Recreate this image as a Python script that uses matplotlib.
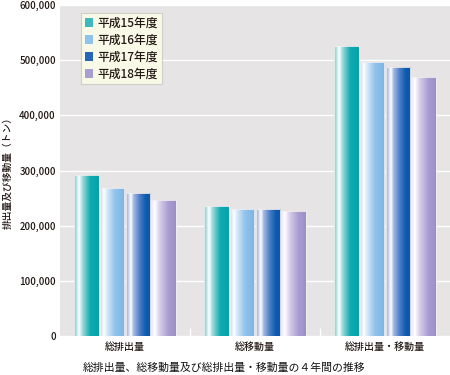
import numpy as np
import matplotlib
matplotlib.use('Agg')
import matplotlib.pyplot as plt
from matplotlib.colors import LinearSegmentedColormap
from matplotlib.patches import Patch

plt.rcParams['font.family'] = ['Noto Sans CJK JP', 'DejaVu Sans']

# データ（トン）
categories = ['総排出量', '総移動量', '総排出量・移動量']
years = ['平成15年度', '平成16年度', '平成17年度', '平成18年度']
h15 = [292000, 236500, 526000]
h16 = [269000, 230000, 496000]
h17 = [260000, 231000, 488000]
h18 = [246000, 227000, 470000]
series = [h15, h16, h17, h18]
yticks = [0, 100000, 200000, 300000, 400000, 500000, 600000]

# 棒のグラデーション（左→右）
grads = [
    [(0, '#7FCBCE'), (0.08, '#A6DCDD'), (0.2, '#FFFFFF'), (0.35, '#9CD7D9'), (0.65, '#12AAB0'), (1, '#00A5AD')],
    [(0, '#B9DCF4'), (0.15, '#FFFFFF'), (0.3, '#D2E7F8'), (0.6, '#92C3EB'), (1, '#7AB4E6')],
    [(0, '#8EA6D8'), (0.2, '#FFFFFF'), (0.3, '#A9BAE1'), (0.55, '#4D7EC5'), (0.8, '#0B5BB0'), (1, '#0E57A8')],
    [(0, '#E6E2F3'), (0.15, '#FFFFFF'), (0.35, '#D7CFEA'), (0.7, '#A99CD1'), (1, '#9C8EC9')],
]
legend_cols = ['#3DB8BE', '#8EC3EC', '#2566B8', '#A89ED2']

fig = plt.figure(figsize=(4.5, 3.75), dpi=100)
ax = fig.add_axes([60 / 450, 39 / 375, 390 / 450, 331 / 375])
ax.set_facecolor('#E6E4E4')
for s in ax.spines.values():
    s.set_visible(False)

x = np.arange(len(categories))
step = 0.197
width = 0.186
grad = np.linspace(0, 1, 256).reshape(1, -1)
for i, vals in enumerate(series):
    cmap = LinearSegmentedColormap.from_list('g%d' % i, grads[i])
    bars = ax.bar(x + (i - 1.5) * step, vals, width, facecolor='none',
                  edgecolor='#F2EEEE', linewidth=0.6, zorder=3)
    for b in bars:
        x0, y0 = b.get_x(), b.get_y()
        im = ax.imshow(grad, cmap=cmap, aspect='auto', zorder=2,
                       extent=[x0, x0 + b.get_width(), y0, y0 + b.get_height()])
        im.set_clip_path(b)

ax.set_xlim(-0.5, 2.5)
ax.set_ylim(0, 600000)
ax.set_yticks(yticks)
ax.set_yticklabels(['{:,}'.format(v) for v in yticks], fontsize=7, color='#231815',
                   fontweight='medium')
ax.set_xticks(x)
ax.set_xticklabels(categories, fontsize=7.2, color='#231815', fontweight='medium')
ax.tick_params(length=0, pad=3)
ax.tick_params(axis='x', pad=4)
ax.grid(axis='y', color='white', linewidth=1, zorder=1)
ax.set_axisbelow(True)
ax.vlines([0.5, 1.5], 0, 14000, color='white', linewidth=1, zorder=1)

ax.set_ylabel('排出量及び移動量（トン）', fontsize=7, color='#231815', labelpad=5,
              fontweight='medium')

handles = [Patch(facecolor=c, edgecolor='none') for c in legend_cols]
leg = ax.legend(handles, years, loc='upper left', bbox_to_anchor=(0.054, 0.976),
                borderaxespad=0, fontsize=8.5, handlelength=0.7, handleheight=0.8,
                handletextpad=0.4, labelspacing=0.35, borderpad=0.3,
                fancybox=False, frameon=True)
leg.get_frame().set_facecolor('#FFFFE8')
leg.get_frame().set_edgecolor('#C8C8C0')
leg.get_frame().set_linewidth(0.8)
leg.set_zorder(5)
for t in leg.get_texts():
    t.set_color('#231815')
    t.set_fontweight('medium')

fig.text(83 / 450, 1 - 368 / 375, '総排出量、総移動量及び総排出量・移動量の４年間の推移',
         fontsize=7.8, color='#111111', va='center', ha='left')

fig.savefig('out.png', dpi=100)
